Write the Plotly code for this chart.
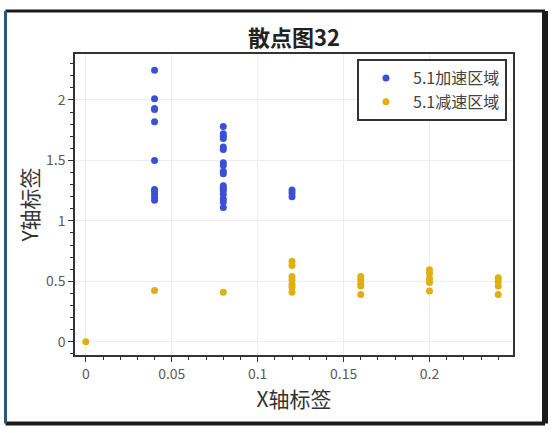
import plotly.graph_objects as go

accel_x = [0.04]*11 + [0.08]*17 + [0.12]*3
accel_y = [2.245, 2.01, 1.93, 1.92, 1.82, 1.50, 1.26, 1.245, 1.22, 1.195, 1.17,
           1.78, 1.72, 1.70, 1.68, 1.61, 1.59, 1.48, 1.46, 1.41, 1.39, 1.29, 1.27, 1.25, 1.22, 1.18, 1.155, 1.11,
           1.255, 1.23, 1.20]

decel_x = [0.0, 0.04, 0.08] + [0.12]*7 + [0.16]*5 + [0.2]*5 + [0.24]*4
decel_y = [0.0, 0.423, 0.41,
           0.665, 0.63, 0.54, 0.51, 0.475, 0.45, 0.41,
           0.54, 0.51, 0.48, 0.46, 0.39,
           0.595, 0.565, 0.52, 0.49, 0.42,
           0.53, 0.50, 0.46, 0.39]

x_ticks = [0, 0.05, 0.1, 0.15, 0.2]
x_tick_labels = ["0", "0.05", "0.1", "0.15", "0.2"]
y_ticks = [0, 0.5, 1, 1.5, 2]
y_tick_labels = ["0", "0.5", "1", "1.5", "2"]

FONT = "Noto Sans CJK SC"

fig = go.Figure()
fig.add_trace(go.Scatter(x=accel_x, y=accel_y, mode="markers", name="5.1加速区域",
                         marker=dict(color="#3c50d6", size=7)))
fig.add_trace(go.Scatter(x=decel_x, y=decel_y, mode="markers", name="5.1减速区域",
                         marker=dict(color="#e0af14", size=7)))

axis_common = dict(showline=True, linecolor="#333333", linewidth=1.5, mirror=True,
                   ticks="outside", ticklen=5, tickcolor="#333333",
                   showgrid=True, gridcolor="#ededed", gridwidth=1, zeroline=False,
                   tickfont=dict(family=FONT, size=14, color="#5a5a5a"))

fig.update_xaxes(range=[-0.0063, 0.2486], tickvals=x_ticks, ticktext=x_tick_labels,
                 minor=dict(dtick=0.01, ticks="outside", ticklen=3, tickcolor="#333333", showgrid=False),
                 title=dict(text="X轴标签", font=dict(family=FONT, size=21, color="#333333"), standoff=4),
                 **axis_common)
fig.update_yaxes(range=[-0.11, 2.38], tickvals=y_ticks, ticktext=y_tick_labels,
                 minor=dict(dtick=0.1, ticks="outside", ticklen=3, tickcolor="#333333", showgrid=False),
                 title=dict(text="Y轴标签", font=dict(family=FONT, size=21, color="#333333"), standoff=2),
                 **axis_common)

# outer frame around the whole chart (pixel-calibrated in paper units)
L, R, T, B = -0.1587, 1.0731, 1.1429, -0.2276
fig.add_shape(type="line", xref="paper", yref="paper", x0=L, x1=R, y0=T, y1=T,
              line=dict(color="#1a1a1a", width=3), layer="below")
fig.add_shape(type="line", xref="paper", yref="paper", x0=L, x1=R, y0=B, y1=B,
              line=dict(color="#1a1a1a", width=4), layer="below")
fig.add_shape(type="line", xref="paper", yref="paper", x0=R, x1=R, y0=B, y1=T,
              line=dict(color="#1a1a1a", width=6), layer="below")
fig.add_shape(type="line", xref="paper", yref="paper", x0=L, x1=L, y0=B, y1=T,
              line=dict(color="#2b5878", width=3), layer="below")

fig.update_layout(
    width=552, height=433,
    margin=dict(l=75, r=39, t=54, b=78),
    paper_bgcolor="white", plot_bgcolor="white",
    title=dict(text="<b>散点图32</b>", x=0.5, xref="paper", xanchor="center",
               yref="container", y=0.912, yanchor="middle",
               font=dict(family=FONT, size=22, color="#222222")),
    legend=dict(x=0.9863, y=0.9834, xanchor="right", yanchor="top",
                bgcolor="white", bordercolor="#333333", borderwidth=2,
                font=dict(family=FONT, size=16, color="#444444"),
                itemwidth=44, tracegroupgap=0),
    showlegend=True,
)

fig.write_html("out.html", config={"displayModeBar": False},
               post_script="document.body.style.margin='0';document.body.style.overflow='hidden';")
